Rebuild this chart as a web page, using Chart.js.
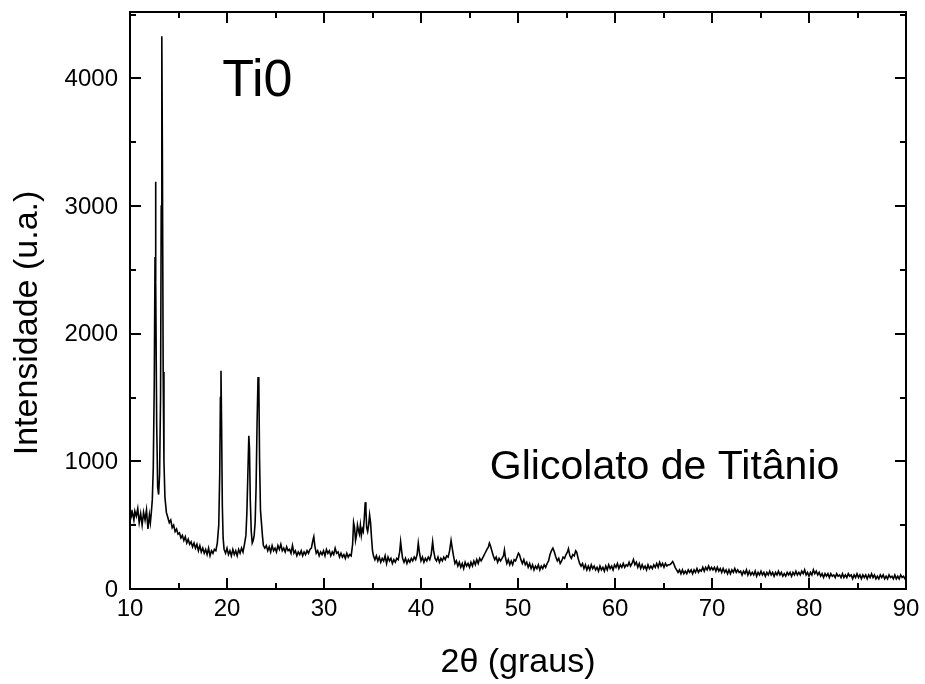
<!DOCTYPE html>
<html>
<head>
<meta charset="utf-8">
<title>Ti0 - Glicolato de Titânio</title>
<script src="https://cdn.jsdelivr.net/npm/chart.js@4/dist/chart.umd.min.js"></script>
<style>
  html, body { margin: 0; padding: 0; background: #fff; }
  #wrap { width: 925px; height: 684px; }
</style>
</head>
<body>
<div id="wrap"><canvas id="xrdChart"></canvas></div>
<script>
// 2-theta positions (degrees), one row per line, same rows as intensity below
const twoTheta = [
  10.0, 10.1, 10.25, 10.4, 10.5, 10.65, 10.8, 10.95, 11.1, 11.25,
  11.4, 11.55, 11.7, 11.85, 12.0, 12.1, 12.2, 12.3, 12.4, 12.5,
  12.58, 12.62, 12.68, 12.75, 12.85, 12.95, 13.05, 13.15, 13.22, 13.28,
  13.34, 13.42, 13.5, 13.6, 13.75, 13.9, 14.05, 14.2, 14.35, 14.5,
  14.65, 14.8, 14.95, 15.1, 15.25, 15.4, 15.55, 15.7, 15.85, 16.0,
  16.15, 16.3, 16.45, 16.6, 16.75, 16.9, 17.05, 17.2, 17.35, 17.5,
  17.65, 17.8, 17.95, 18.1, 18.25, 18.4, 18.55, 18.7, 18.85, 19.0,
  19.15, 19.25, 19.32, 19.38, 19.44, 19.52, 19.6, 19.7, 19.85, 20.0,
  20.15, 20.3, 20.45, 20.6, 20.75, 20.9, 21.05, 21.2, 21.35, 21.5,
  21.65, 21.8, 21.95, 22.05, 22.15, 22.25, 22.32, 22.4, 22.5, 22.6,
  22.7, 22.8, 22.9, 23.0, 23.1, 23.2, 23.28, 23.36, 23.45, 23.55,
  23.65, 23.75, 23.9, 24.05, 24.2, 24.35, 24.5, 24.65, 24.8, 24.95,
  25.1, 25.25, 25.4, 25.55, 25.7, 25.85, 26.0, 26.15, 26.3, 26.45,
  26.6, 26.75, 26.9, 27.05, 27.2, 27.35, 27.5, 27.65, 27.8, 27.95,
  28.1, 28.25, 28.4, 28.55, 28.7, 28.85, 28.95, 29.05, 29.2, 29.35,
  29.5, 29.65, 29.8, 29.95, 30.1, 30.25, 30.4, 30.55, 30.7, 30.85,
  31.0, 31.15, 31.3, 31.45, 31.6, 31.75, 31.9, 32.05, 32.2, 32.35,
  32.5, 32.65, 32.8, 32.95, 33.05, 33.15, 33.25, 33.35, 33.45, 33.55,
  33.65, 33.75, 33.85, 33.95, 34.05, 34.15, 34.25, 34.32, 34.4, 34.5,
  34.6, 34.7, 34.8, 34.9, 35.0, 35.1, 35.25, 35.4, 35.55, 35.7,
  35.85, 36.0, 36.15, 36.3, 36.45, 36.6, 36.75, 36.9, 37.05, 37.2,
  37.35, 37.5, 37.65, 37.8, 37.9, 38.0, 38.1, 38.25, 38.4, 38.55,
  38.7, 38.85, 39.0, 39.15, 39.3, 39.45, 39.6, 39.72, 39.85, 40.0,
  40.15, 40.3, 40.45, 40.6, 40.75, 40.9, 41.05, 41.2, 41.3, 41.45,
  41.6, 41.75, 41.9, 42.05, 42.2, 42.35, 42.5, 42.65, 42.8, 42.95,
  43.1, 43.2, 43.35, 43.5, 43.65, 43.8, 43.95, 44.1, 44.25, 44.4,
  44.55, 44.7, 44.85, 45.0, 45.15, 45.3, 45.45, 45.6, 45.75, 45.9,
  46.05, 46.2, 46.4, 46.6, 46.8, 46.95, 47.05, 47.15, 47.3, 47.45,
  47.6, 47.75, 47.9, 48.05, 48.2, 48.35, 48.5, 48.6, 48.7, 48.85,
  49.0, 49.15, 49.3, 49.45, 49.6, 49.75, 49.9, 50.05, 50.15, 50.3,
  50.45, 50.6, 50.75, 50.9, 51.05, 51.2, 51.35, 51.5, 51.65, 51.8,
  51.95, 52.1, 52.25, 52.4, 52.55, 52.7, 52.85, 53.0, 53.15, 53.3,
  53.45, 53.6, 53.75, 53.9, 54.05, 54.2, 54.35, 54.5, 54.65, 54.8,
  54.95, 55.1, 55.2, 55.35, 55.5, 55.65, 55.8, 55.95, 56.05, 56.2,
  56.35, 56.5, 56.65, 56.8, 56.95, 57.1, 57.25, 57.4, 57.55, 57.7,
  57.85, 58.0, 58.15, 58.3, 58.45, 58.6, 58.75, 58.9, 59.05, 59.2,
  59.35, 59.5, 59.65, 59.8, 59.95, 60.1, 60.25, 60.4, 60.55, 60.7,
  60.85, 61.0, 61.15, 61.3, 61.45, 61.6, 61.75, 61.9, 62.05, 62.2,
  62.35, 62.5, 62.65, 62.8, 62.95, 63.1, 63.25, 63.4, 63.55, 63.7,
  63.85, 64.0, 64.15, 64.3, 64.45, 64.6, 64.75, 64.9, 65.05, 65.2,
  65.35, 65.5, 65.65, 65.8, 65.95, 66.05, 66.2, 66.35, 66.5, 66.65,
  66.8, 66.95, 67.1, 67.25, 67.4, 67.55, 67.7, 67.85, 68.0, 68.15,
  68.3, 68.45, 68.6, 68.75, 68.9, 69.05, 69.2, 69.35, 69.5, 69.65,
  69.8, 69.95, 70.1, 70.25, 70.4, 70.55, 70.7, 70.85, 71.0, 71.15,
  71.3, 71.45, 71.6, 71.75, 71.9, 72.05, 72.2, 72.35, 72.5, 72.65,
  72.8, 72.95, 73.1, 73.25, 73.4, 73.55, 73.7, 73.85, 74.0, 74.15,
  74.3, 74.45, 74.6, 74.75, 74.9, 75.05, 75.2, 75.35, 75.5, 75.65,
  75.8, 75.95, 76.1, 76.25, 76.4, 76.55, 76.7, 76.85, 77.0, 77.15,
  77.3, 77.45, 77.6, 77.75, 77.9, 78.05, 78.2, 78.35, 78.5, 78.65,
  78.8, 78.95, 79.1, 79.25, 79.4, 79.55, 79.7, 79.85, 80.0, 80.15,
  80.3, 80.45, 80.6, 80.75, 80.9, 81.05, 81.2, 81.35, 81.5, 81.65,
  81.8, 81.95, 82.1, 82.25, 82.4, 82.55, 82.7, 82.85, 83.0, 83.15,
  83.3, 83.45, 83.6, 83.75, 83.9, 84.05, 84.2, 84.35, 84.5, 84.65,
  84.8, 84.95, 85.1, 85.25, 85.4, 85.55, 85.7, 85.85, 86.0, 86.15,
  86.3, 86.45, 86.6, 86.75, 86.9, 87.05, 87.2, 87.35, 87.5, 87.65,
  87.8, 87.95, 88.1, 88.25, 88.4, 88.55, 88.7, 88.85, 89.0, 89.15,
  89.3, 89.45, 89.6, 89.75, 89.9, 90.0
];

// intensity (u.a.)
const intensity = [
  620, 560, 600, 540, 610, 570, 630, 520, 590, 500,
  600, 540, 620, 470, 580, 520, 600, 700, 950, 1600,
  2600, 3190, 2400, 1300, 800, 740, 900, 1500, 3000, 4330,
  3400, 1700, 1000, 720, 600, 560, 520, 540, 480, 500,
  450, 470, 430, 440, 400, 420, 380, 410, 360, 390,
  350, 370, 330, 360, 320, 350, 300, 340, 290, 320,
  280, 310, 270, 320, 260, 300, 280, 310, 300, 360,
  500, 900, 1500, 1710, 1300, 650, 400, 310, 280, 320,
  270, 300, 260, 310, 270, 300, 260, 310, 280, 320,
  290, 350, 420, 600, 900, 1200, 1100, 700, 450, 360,
  380, 420, 520, 800, 1300, 1660, 1620, 1000, 620, 520,
  420, 340, 320, 340, 300, 330, 290, 340, 300, 320,
  290, 340, 310, 350, 300, 320, 290, 330, 300, 310,
  280, 340, 280, 300, 260, 290, 270, 300, 260, 290,
  270, 300, 280, 310, 320, 380, 410, 340, 280, 300,
  260, 290, 270, 300, 260, 310, 280, 300, 260, 290,
  270, 320, 280, 290, 250, 280, 250, 270, 240, 280,
  250, 270, 260, 350, 520, 480, 380, 420, 500, 460,
  430, 500, 420, 470, 450, 550, 680, 620, 480, 450,
  500, 580, 520, 400, 300, 260, 230, 260, 220, 250,
  210, 240, 220, 260, 200, 250, 220, 240, 200, 230,
  210, 240, 230, 290, 370, 300, 240, 210, 240, 200,
  230, 210, 240, 220, 250, 230, 270, 360, 280, 220,
  250, 210, 240, 220, 250, 230, 270, 370, 300, 240,
  220, 250, 210, 240, 220, 250, 230, 260, 250, 300,
  380, 330, 260, 200, 220, 180, 210, 170, 200, 160,
  210, 180, 200, 170, 210, 180, 220, 190, 230, 200,
  240, 220, 250, 280, 310, 330, 360, 340, 300, 260,
  230, 250, 210, 240, 220, 240, 260, 305, 250, 200,
  230, 190, 220, 190, 230, 220, 250, 280, 270, 230,
  200, 230, 190, 210, 170, 200, 160, 190, 150, 180,
  160, 190, 150, 180, 160, 190, 170, 200, 220, 270,
  300, 320, 290, 250, 220, 240, 200, 220, 250, 240,
  270, 290, 315, 260, 240, 270, 260, 300, 290, 240,
  200, 180, 200, 160, 190, 150, 180, 150, 190, 160,
  180, 150, 170, 140, 180, 150, 170, 140, 180, 150,
  190, 160, 180, 150, 190, 170, 200, 160, 190, 170,
  200, 170, 190, 180, 210, 180, 200, 230, 190, 210,
  170, 200, 160, 190, 160, 180, 150, 190, 160, 180,
  160, 190, 170, 200, 170, 210, 180, 200, 170, 200,
  180, 190, 190, 200, 215, 200, 170, 150, 130, 150,
  120, 150, 120, 140, 120, 150, 130, 150, 120, 150,
  130, 160, 130, 150, 140, 170, 140, 170, 150, 180,
  150, 170, 150, 170, 140, 170, 140, 160, 130, 160,
  130, 150, 120, 150, 120, 150, 130, 160, 130, 150,
  130, 140, 110, 140, 120, 150, 110, 140, 110, 130,
  110, 140, 100, 130, 110, 140, 110, 130, 100, 130,
  110, 140, 110, 130, 100, 130, 110, 140, 110, 130,
  100, 120, 100, 130, 110, 130, 100, 130, 110, 140,
  110, 130, 110, 140, 120, 150, 110, 130, 100, 130,
  110, 150, 120, 140, 110, 130, 100, 120, 90, 120,
  100, 120, 90, 120, 100, 110, 90, 120, 100, 110,
  90, 120, 90, 110, 90, 120, 100, 110, 80, 110,
  90, 120, 90, 110, 80, 110, 90, 110, 80, 110,
  90, 120, 90, 110, 80, 100, 80, 110, 90, 110,
  80, 100, 80, 110, 90, 100, 80, 110, 80, 100,
  80, 110, 90, 100, 80, 90
];

const xLimits = [10, 90];
const yLimits = [0, 4520];
const xTickStep = 10;
const yTickStep = 1000;
const yTickLabels = ["0", "1000", "2000", "3000", "4000"];

const sampleName = "Ti0";
const compoundName = "Glicolato de Titânio";
const xTitle = "2θ (graus)";
const yTitle = "Intensidade (u.a.)";

if (twoTheta.length !== intensity.length) {
  console.error("length mismatch", twoTheta.length, intensity.length);
}

const points = twoTheta.map((t, i) => ({ x: t, y: intensity[i] }));

const FONT = "'Liberation Sans', Arial, Helvetica, sans-serif";

// frame, inward ticks (major + minor), y labels/title and the two notes
const framePlugin = {
  id: "frame",
  afterDraw(chart) {
    const ctx = chart.ctx;
    const a = chart.chartArea;
    const xs = chart.scales.x;
    const ys = chart.scales.y;
    ctx.save();
    ctx.strokeStyle = "#000";
    ctx.lineWidth = 2;
    ctx.strokeRect(a.left, a.top, a.right - a.left, a.bottom - a.top);

    ctx.beginPath();
    for (let v = xLimits[0]; v <= xLimits[1]; v += xTickStep / 2) {
      const len = v % xTickStep === 0 ? 11 : 6;
      const px = Math.round(xs.getPixelForValue(v));
      ctx.moveTo(px, a.bottom);
      ctx.lineTo(px, a.bottom - len);
      ctx.moveTo(px, a.top);
      ctx.lineTo(px, a.top + len);
    }
    for (let v = yLimits[0]; v <= yLimits[1]; v += yTickStep / 2) {
      const len = v % yTickStep === 0 ? 11 : 6;
      const py = Math.round(ys.getPixelForValue(v));
      ctx.moveTo(a.left, py);
      ctx.lineTo(a.left + len, py);
      ctx.moveTo(a.right, py);
      ctx.lineTo(a.right - len, py);
    }
    ctx.stroke();

    ctx.fillStyle = "#000";

    // y tick labels
    ctx.font = "24px " + FONT;
    ctx.textAlign = "right";
    ctx.textBaseline = "middle";
    yTickLabels.forEach((lab) => {
      ctx.fillText(lab, a.left - 12, ys.getPixelForValue(Number(lab)) + 1);
    });

    // y title
    ctx.save();
    ctx.translate(28, 323);
    ctx.rotate(-Math.PI / 2);
    ctx.textAlign = "center";
    ctx.font = "34px " + FONT;
    ctx.fillText(yTitle, 0, 0);
    ctx.restore();

    ctx.textBaseline = "alphabetic";
    ctx.textAlign = "left";
    ctx.font = "52px " + FONT;
    ctx.fillText(sampleName, xs.getPixelForValue(19.5), ys.getPixelForValue(3860));
    ctx.font = "41px " + FONT;
    ctx.fillText(compoundName, xs.getPixelForValue(47.1), ys.getPixelForValue(860));
    ctx.restore();
  }
};

const config = {
  type: "line",
  data: {
    datasets: [
      {
        data: points,
        borderColor: "#000",
        borderWidth: 1.6,
        pointRadius: 0,
        tension: 0,
        fill: false
      }
    ]
  },
  options: {
    responsive: true,
    maintainAspectRatio: false,
    animation: false,
    events: [],
    layout: { padding: { top: 12, right: 19, left: 0, bottom: 0 } },
    plugins: {
      legend: { display: false },
      tooltip: { enabled: false },
      title: { display: false }
    },
    scales: {
      x: {
        type: "linear",
        min: xLimits[0],
        max: xLimits[1],
        grid: { display: false, drawTicks: false },
        border: { display: false },
        afterFit: (s) => { s.height = 95; s.paddingLeft = 0; s.paddingRight = 0; },
        ticks: {
          stepSize: xTickStep,
          autoSkip: false,
          color: "#000",
          padding: 6,
          maxRotation: 0,
          font: { family: FONT, size: 24 },
          callback: (v) => (v % xTickStep === 0 ? String(v) : null)
        },
        title: {
          display: true,
          text: xTitle,
          color: "#000",
          padding: { top: 0, bottom: 1 },
          font: { family: FONT, size: 34 }
        }
      },
      y: {
        type: "linear",
        min: yLimits[0],
        max: yLimits[1],
        grid: { display: false, drawTicks: false },
        border: { display: false },
        afterFit: (s) => { s.width = 130; s.paddingTop = 0; s.paddingBottom = 0; },
        ticks: { display: false, stepSize: yTickStep },
        title: { display: false }
      }
    }
  },
  plugins: [framePlugin]
};

let myChart = new Chart(document.getElementById("xrdChart"), config);
</script>
</body>
</html>
